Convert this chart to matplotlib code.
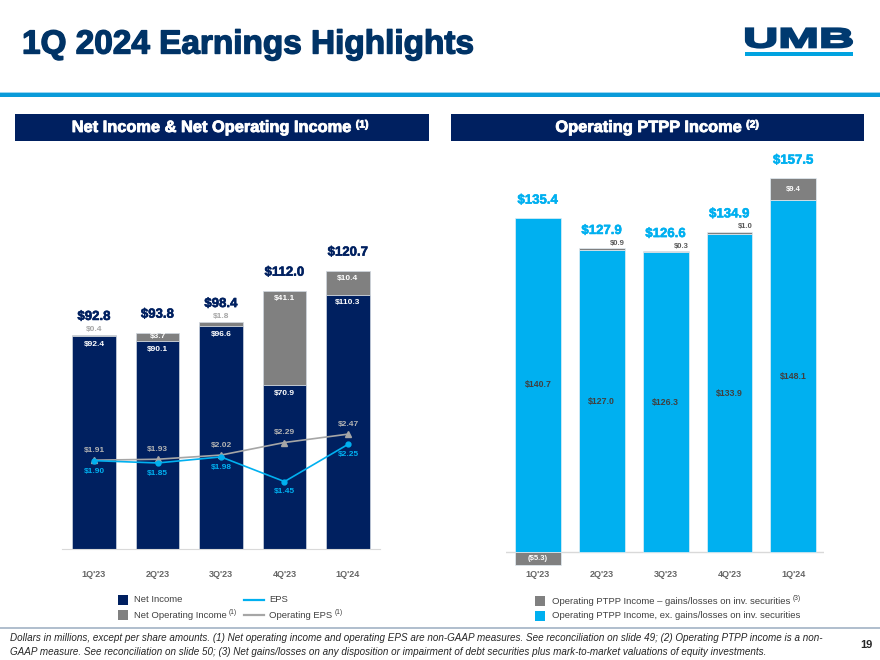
import numpy as np
import matplotlib

matplotlib.use("Agg")
import matplotlib.pyplot as plt
import matplotlib.transforms as mtransforms
import matplotlib.patheffects as pe
from matplotlib.patches import Rectangle, PathPatch
from matplotlib.textpath import TextPath
from matplotlib.font_manager import FontProperties

# --- data ---
quarters = ["1Q'23", "2Q'23", "3Q'23", "4Q'23", "1Q'24"]
net_income = [92.4, 90.1, 96.6, 70.9, 110.3]
net_op_adj = [0.4, 3.7, 1.8, 41.1, 10.4]
net_op_income = [92.8, 93.8, 98.4, 112.0, 120.7]
eps = [1.90, 1.85, 1.98, 1.45, 2.25]
op_eps = [1.91, 1.93, 2.02, 2.29, 2.47]

ptpp_ex = [140.7, 127.0, 126.3, 133.9, 148.1]
ptpp_gains = [-5.3, 0.9, 0.3, 1.0, 9.4]
ptpp_total = [135.4, 127.9, 126.6, 134.9, 157.5]

NAVY = "#002060"
TITLE = "#003366"
GRAY = "#808080"
BLUE = "#00b0f0"
AXIS = "#d9d9d9"
TICK = "#666666"

plt.rcParams["font.family"] = ["Liberation Sans", "DejaVu Sans"]

W, H = 880, 660
fig = plt.figure(figsize=(8.8, 6.6), dpi=100)


def px_rect(x0, y0, x1, y1):
    return [x0 / W, 1 - y1 / H, (x1 - x0) / W, (y1 - y0) / H]


def heavy(color, w):
    return [pe.withStroke(linewidth=w, foreground=color)]


# page layer in pixel coordinates (y down)
page = fig.add_axes([0, 0, 1, 1], zorder=0)
page.set_xlim(0, W)
page.set_ylim(H, 0)
page.axis("off")
renderer = fig.canvas.get_renderer()


def text_sup(x, y, main, sup, size, sup_size, raise_px, center=False, gap=2, **kw):
    t1 = page.text(x, y, main, fontsize=size, va="center", ha="left", **kw)
    b1 = t1.get_window_extent(renderer).transformed(page.transData.inverted())
    t2 = page.text(b1.x1 + gap, y - raise_px, sup, fontsize=sup_size, va="center", ha="left", **kw)
    b2 = t2.get_window_extent(renderer).transformed(page.transData.inverted())
    if center:
        shift = x - (b1.x0 + b2.x1) / 2
        t1.set_x(b1.x0 + shift)
        t2.set_x(b1.x1 + gap + shift)


# title, logo, rule
page.text(22, 45, "1Q 2024 Earnings Highlights", fontsize=24, fontweight="bold",
          color=TITLE, va="center", path_effects=heavy(TITLE, 1.0))
tp = TextPath((0, 0), "UMB", size=1, prop=FontProperties(family="Liberation Sans", weight="bold"))
bb = tp.get_extents()
tr = mtransforms.Affine2D().translate(-bb.x0, -bb.y0).scale(106 / bb.width, -19 / bb.height).translate(746, 47.5)
page.add_patch(PathPatch(tr.transform_path(tp), facecolor="#003a70", edgecolor="#003a70", lw=1.6))
page.add_patch(Rectangle((745, 52.3), 108, 3.4, color="#00a3e0", lw=0))
page.add_patch(Rectangle((0, 91.5), W, 1.5, color="#9ad6f2", lw=0))
page.add_patch(Rectangle((0, 93), W, 4.2, color="#0a9bd9", lw=0))

# section headers
page.add_patch(Rectangle((15, 114), 414, 27, color=NAVY, lw=0))
page.add_patch(Rectangle((451, 114), 413, 27, color=NAVY, lw=0))
text_sup(220, 127.5, "Net Income & Net Operating Income", "(1)", 11.8, 7.5, 3, center=True, gap=5,
         color="white", fontweight="bold", path_effects=heavy("white", 0.6))
text_sup(657, 127.5, "Operating PTPP Income", "(2)", 11.8, 7.5, 3, center=True, gap=5,
         color="white", fontweight="bold", path_effects=heavy("white", 0.6))

x = np.arange(len(quarters))

# ---------- left: net income / net operating income + EPS ----------
axL = fig.add_axes(px_rect(62, 150, 380, 549), zorder=2)
axL.patch.set_alpha(0)
axL.bar(x, net_income, width=0.69, color=NAVY, edgecolor="#cfd6e0", lw=0.5)
axL.bar(x, net_op_adj, width=0.69, bottom=net_income, color=GRAY, edgecolor="#cfd6e0", lw=0.5)
axL.set_xlim(-0.504, 4.504)
axL.set_ylim(0, 173)
for s in ["top", "right", "left"]:
    axL.spines[s].set_visible(False)
axL.spines["bottom"].set_color(AXIS)
axL.set_yticks([])
axL.set_xticks(x, quarters)
axL.tick_params(axis="x", length=0, pad=15, labelsize=6.5, labelcolor=TICK)
for lab in axL.get_xticklabels():
    lab.set_fontweight("bold")

for i in x:
    axL.text(i, net_op_income[i] + 7.8, f"${net_op_income[i]:.1f}", ha="center", va="center",
             fontsize=9.5, fontweight="bold", color=NAVY, path_effects=heavy(NAVY, 0.4))
    axL.text(i, net_income[i] - 3.6, f"${net_income[i]:.1f}", ha="center", va="center",
             fontsize=6, fontweight="bold", color="white")
    adj = net_op_adj[i]
    if adj < 2:
        axL.text(i, net_op_income[i] + 2.5, f"${adj:.1f}", ha="center", va="center",
                 fontsize=6, fontweight="bold", color="#a6a6a6")
    else:
        axL.text(i, net_op_income[i] - min(3.6, adj / 2), f"${adj:.1f}", ha="center", va="center",
                 fontsize=6, fontweight="bold", color="white")

axE = axL.twinx()
axE.set_ylim(0, 8.58)
axE.axis("off")
axE.plot(x, op_eps, "-^", color="#a6a6a6", lw=1.2, ms=4)
axE.plot(x, eps, "-o", color=BLUE, lw=1.2, ms=3.5)
for i in x:
    axE.annotate(f"${op_eps[i]:.2f}", (i, op_eps[i]), xytext=(0, 7), textcoords="offset points",
                 ha="center", va="center", fontsize=6, fontweight="bold", color="#b3b3b3")
    axE.annotate(f"${eps[i]:.2f}", (i, eps[i]), xytext=(0, -7.5), textcoords="offset points",
                 ha="center", va="center", fontsize=6, fontweight="bold", color=BLUE)

# ---------- right: operating PTPP income ----------
axR = fig.add_axes(px_rect(506, 150, 824, 566), zorder=2)
axR.patch.set_alpha(0)
gains = np.array(ptpp_gains)
axR.bar(x, ptpp_ex, width=0.72, color=BLUE, edgecolor="#e3eef5", lw=0.5)
axR.bar(x, gains, width=0.72, bottom=np.where(gains > 0, ptpp_ex, 0), color=GRAY,
        edgecolor="#e3eef5", lw=0.5)
axR.axhline(0, color=AXIS, lw=1, zorder=0.5)
axR.set_xlim(-0.50, 4.48)
axR.set_ylim(-5.9, 169.3)
for s in axR.spines.values():
    s.set_visible(False)
axR.set_yticks([])
axR.set_xticks(x, quarters)
axR.tick_params(axis="x", length=0, pad=3, labelsize=6.5, labelcolor=TICK)
for lab in axR.get_xticklabels():
    lab.set_fontweight("bold")

for i in x:
    top = max(ptpp_ex[i], ptpp_total[i])
    axR.text(i, top + 7.3, f"${ptpp_total[i]:.1f}", ha="center", va="center",
             fontsize=9.5, fontweight="bold", color=BLUE, path_effects=heavy(BLUE, 0.4))
    axR.text(i, ptpp_ex[i] / 2, f"${ptpp_ex[i]:.1f}", ha="center", va="center",
             fontsize=6.3, fontweight="bold", color="#404040")
    g = ptpp_gains[i]
    if g < 0:
        axR.text(i, g / 2, f"(${-g:.1f})", ha="center", va="center",
                 fontsize=5.5, fontweight="bold", color="white")
    elif g > 3:
        axR.text(i, ptpp_ex[i] + g / 2, f"${g:.1f}", ha="center", va="center",
                 fontsize=5.5, fontweight="bold", color="white")
    else:
        axR.text(i + 0.24, ptpp_total[i] + 2.1, f"${g:.1f}", ha="center", va="center",
                 fontsize=5.5, fontweight="bold", color="#595959")

# ---------- legends ----------
LEG = "#404040"
page.add_patch(Rectangle((118, 595), 10, 10, color=NAVY, lw=0))
page.add_patch(Rectangle((118, 610), 10, 10, color=GRAY, lw=0))
page.text(134, 600, "Net Income", fontsize=6.8, color=LEG, va="center")
text_sup(134, 615, "Net Operating Income", "(1)", 6.8, 4.8, 2.5, color=LEG)
page.plot([244, 264], [600, 600], color=BLUE, lw=1.6)
page.plot([244, 264], [615, 615], color="#a6a6a6", lw=1.6)
page.text(269, 600, "EPS", fontsize=6.8, color=LEG, va="center")
text_sup(269, 615, "Operating EPS", "(1)", 6.8, 4.8, 2.5, color=LEG)

page.add_patch(Rectangle((535, 596), 10, 10, color=GRAY, lw=0))
page.add_patch(Rectangle((535, 611), 10, 10, color=BLUE, lw=0))
text_sup(552, 601, "Operating PTPP Income \u2013 gains/losses on inv. securities", "(3)", 6.8, 4.8, 2.5,
         color=LEG)
page.text(552, 616, "Operating PTPP Income, ex. gains/losses on inv. securities", fontsize=6.8,
          color=LEG, va="center")

# ---------- footnote ----------
page.plot([0, W], [628, 628], color="#a9b9c9", lw=1.3)
page.text(10, 638, "Dollars in millions, except per share amounts. (1) Net operating income and operating EPS "
          "are non-GAAP measures. See reconciliation on slide 49; (2) Operating PTPP income is a non-",
          fontsize=7.1, style="italic", color="#262626", va="center")
page.text(10, 652, "GAAP measure. See reconciliation on slide 50; (3) Net gains/losses on any disposition or "
          "impairment of debt securities plus mark-to-market valuations of equity investments.",
          fontsize=7.1, style="italic", color="#262626", va="center")
page.text(866, 645, "19", fontsize=8, fontweight="bold", color="#262626", ha="center", va="center")

fig.savefig("out.png", dpi=100)
